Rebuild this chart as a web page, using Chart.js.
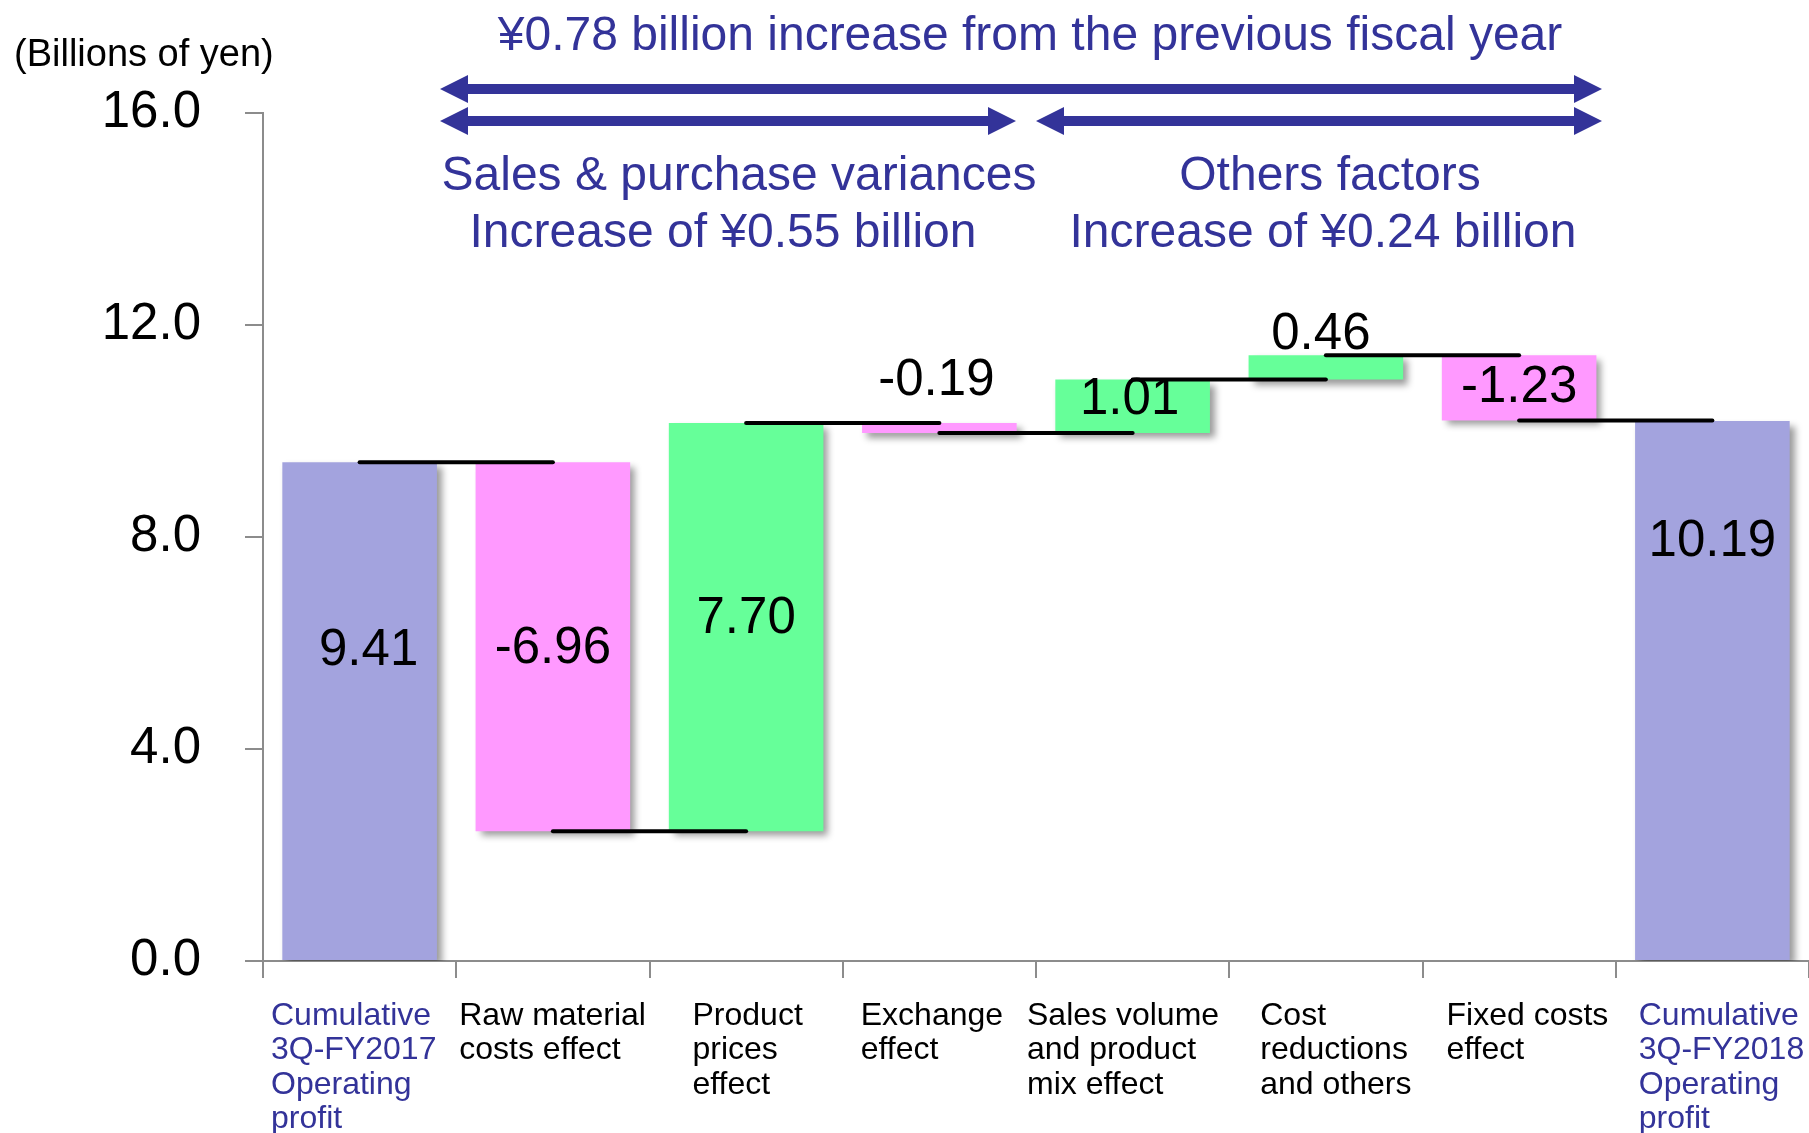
<!DOCTYPE html>
<html>
<head>
<meta charset="utf-8">
<script src="https://cdn.jsdelivr.net/npm/chart.js@4/dist/chart.umd.min.js"></script>
<style>
  html, body { margin: 0; padding: 0; background: #ffffff; }
  #wrap { width: 1809px; height: 1133px; }
</style>
</head>
<body>
<div id="wrap"><canvas id="myChart" width="1809" height="1133"></canvas></div>
<script>
// chart values
const categories = [
    ['Cumulative', '3Q-FY2017', 'Operating', 'profit'],
    ['Raw material', 'costs effect'],
    ['Product', 'prices', 'effect'],
    ['Exchange', 'effect'],
    ['Sales volume', 'and product', 'mix effect'],
    ['Cost', 'reductions', 'and others'],
    ['Fixed costs', 'effect'],
    ['Cumulative', '3Q-FY2018', 'Operating', 'profit']
];
const changes = [9.41, -6.96, 7.70, -0.19, 1.01, 0.46, -1.23, 10.19];
const isTotal = [true, false, false, false, false, false, false, true];
const valueLabels = ['9.41', '-6.96', '7.70', '-0.19', '1.01', '0.46', '-1.23', '10.19'];
const yTickValues = [0, 4, 8, 12, 16];

const titleText = '\u00a50.78 billion increase from the previous fiscal year';
const leftGroupText = ['Sales & purchase variances', 'Increase of \u00a50.55 billion'];
const rightGroupText = ['Others factors', 'Increase of \u00a50.24 billion'];
const unitText = '(Billions of yen)';

const ctx = document.getElementById('myChart');
if (ctx) {
    const fontFamily = '"Liberation Sans", Arial, sans-serif';
    const navy      = '#333399';
    const purple    = '#a3a3de';
    const pink      = '#ff99ff';
    const green     = '#66ff99';
    const axisColor = '#8c8c8c';

    // waterfall: floating ranges from the running total
    let running = 0;
    const ranges = [];
    const levels = [];
    const colors = [];
    changes.forEach(function(v, i) {
        if (isTotal[i]) {
            ranges.push([0, v]);
            running = v;
            colors.push(purple);
        } else {
            ranges.push([running, running + v]);
            running += v;
            colors.push(v < 0 ? pink : green);
        }
        levels.push(running);
    });

    // one short line per step, from one bar centre to the next
    const connectors = [];
    for (let i = 0; i < levels.length - 1; i++) {
        connectors.push({
            type: 'line',
            data: categories.map(function(_, k) {
                return (k === i || k === i + 1) ? levels[i] : null;
            }),
            borderColor: '#000000',
            borderWidth: 4,
            borderCapStyle: 'round',
            pointRadius: 0,
            spanGaps: false,
            order: 1
        });
    }

    // where each value label sits: 'mid' of the bar or a y value
    const labelPlace = [5.85, 5.88, 6.45, 10.95, 10.58, 11.82, 'mid', 7.9];
    const labelShift = [9, 0, 0, -3, -3, -5, 0, 0];
    // left start of each category label, from the category's left edge
    const catLabelShift = [8, 3, 43, 18, -9, 31, 24, 23];

    const shadowPlugin = {
        id: 'barShadow',
        beforeDatasetDraw(chart, args) {
            if (args.meta.type !== 'bar') return;
            const c = chart.ctx;
            c.save();
            c.shadowColor = 'rgba(0, 0, 0, 0.4)';
            c.shadowBlur = 7;
            c.shadowOffsetX = 5;
            c.shadowOffsetY = 5;
        },
        afterDatasetDraw(chart, args) {
            if (args.meta.type !== 'bar') return;
            chart.ctx.restore();
        }
    };

    const valuePlugin = {
        id: 'valueLabels',
        afterDatasetsDraw(chart) {
            const c = chart.ctx;
            const meta = chart.getDatasetMeta(chart.data.datasets.length - 1);
            const y = chart.scales.y;
            c.save();
            c.font = '51px ' + fontFamily;
            c.fillStyle = '#000000';
            c.textAlign = 'center';
            c.textBaseline = 'middle';
            meta.data.forEach(function(bar, i) {
                const r = ranges[i];
                const at = labelPlace[i] === 'mid' ? (r[0] + r[1]) / 2 : labelPlace[i];
                c.fillText(valueLabels[i], bar.x + labelShift[i], y.getPixelForValue(at));
            });
            c.restore();
        }
    };

    const categoryLabelPlugin = {
        id: 'categoryLabels',
        afterDraw(chart) {
            const c = chart.ctx;
            const x = chart.scales.x;
            const half = x.width / categories.length / 2;
            c.save();
            c.font = '32px ' + fontFamily;
            c.textAlign = 'left';
            c.textBaseline = 'middle';
            categories.forEach(function(lines, i) {
                c.fillStyle = (i === 0 || i === categories.length - 1) ? navy : '#000000';
                const left = x.getPixelForValue(i) - half + catLabelShift[i];
                lines.forEach(function(line, j) {
                    c.fillText(line, left, x.top + 55 + j * 34.5);
                });
            });
            c.restore();
        }
    };

    function arrow(c, x1, x2, yy) {
        const head = 28, half = 14, shaft = 5;
        c.beginPath();
        c.moveTo(x1, yy);
        c.lineTo(x1 + head, yy - half);
        c.lineTo(x1 + head, yy - shaft);
        c.lineTo(x2 - head, yy - shaft);
        c.lineTo(x2 - head, yy - half);
        c.lineTo(x2, yy);
        c.lineTo(x2 - head, yy + half);
        c.lineTo(x2 - head, yy + shaft);
        c.lineTo(x1 + head, yy + shaft);
        c.lineTo(x1 + head, yy + half);
        c.closePath();
        c.fill();
    }

    const notesPlugin = {
        id: 'notes',
        afterDraw(chart) {
            const c = chart.ctx;
            c.save();
            c.fillStyle = '#000000';
            c.font = '38px ' + fontFamily;
            c.textAlign = 'left';
            c.textBaseline = 'alphabetic';
            c.fillText(unitText, 14, 66);

            c.fillStyle = navy;
            c.font = '48px ' + fontFamily;
            c.textAlign = 'center';
            c.fillText(titleText, 1030, 50);
            c.fillText(leftGroupText[0], 739, 190);
            c.fillText(leftGroupText[1], 723, 247);
            c.fillText(rightGroupText[0], 1330, 190);
            c.fillText(rightGroupText[1], 1323, 247);

            arrow(c, 440, 1602, 89);
            arrow(c, 440, 1016, 121);
            arrow(c, 1036, 1602, 121);
            c.restore();
        }
    };

    new Chart(ctx, {
        type: 'bar',
        data: {
            labels: categories,
            datasets: connectors.concat([{
                type: 'bar',
                data: ranges,
                backgroundColor: colors,
                borderWidth: 0,
                grouped: false,
                barPercentage: 0.8,
                categoryPercentage: 1.0,
                order: 2
            }])
        },
        options: {
            responsive: false,
            animation: false,
            devicePixelRatio: 1,
            layout: { padding: { top: 113, right: 0, left: 0, bottom: 0 } },
            plugins: {
                legend: { display: false },
                tooltip: { enabled: false }
            },
            scales: {
                x: {
                    offset: true,
                    grid: {
                        display: true,
                        drawOnChartArea: false,
                        offset: true,
                        tickLength: 17,
                        color: axisColor,
                        lineWidth: 2
                    },
                    border: { color: axisColor, width: 2 },
                    ticks: { display: false },
                    afterFit: function(scale) {
                        scale.height = 172;
                        scale.paddingLeft = 0;
                        scale.paddingRight = 0;
                    }
                },
                y: {
                    min: 0,
                    max: 16,
                    grid: {
                        display: true,
                        drawOnChartArea: false,
                        tickLength: 18,
                        color: axisColor,
                        lineWidth: 2
                    },
                    border: { color: axisColor, width: 2 },
                    afterBuildTicks: function(scale) {
                        scale.ticks = yTickValues.map(function(v) { return { value: v }; });
                    },
                    ticks: {
                        padding: 44,
                        color: '#000000',
                        font: { family: fontFamily, size: 51 },
                        callback: function(v) { return Number(v).toFixed(1); }
                    },
                    afterFit: function(scale) {
                        scale.width = 263;
                    }
                }
            }
        },
        plugins: [shadowPlugin, valuePlugin, categoryLabelPlugin, notesPlugin]
    });
}
</script>
</body>
</html>
